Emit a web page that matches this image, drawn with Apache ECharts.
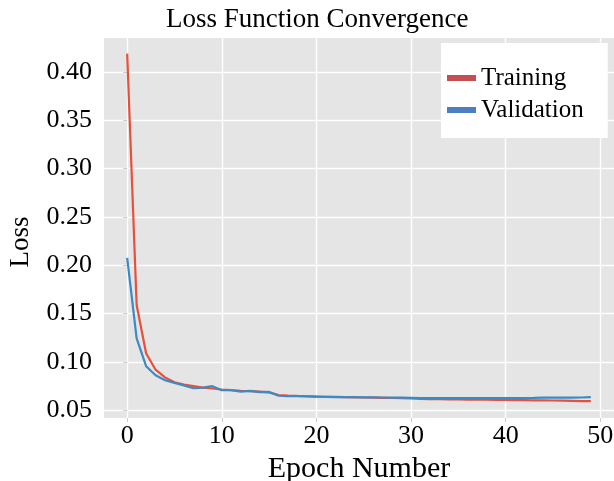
<!DOCTYPE html>
<html>
<head>
<meta charset="utf-8">
<script src="https://cdn.jsdelivr.net/npm/echarts@6/dist/echarts.min.js"></script>
<style>
  html, body { margin: 0; padding: 0; background: #ffffff; }
  #chart { width: 614px; height: 481px; }
</style>
</head>
<body>
<div id="chart"></div>
<script>
// Loss per epoch for the training and validation sets
const epochs = Array.from({ length: 50 }, (_, i) => i);

const trainingLoss = [
  0.419, 0.159, 0.109, 0.092, 0.084, 0.079, 0.0765, 0.075, 0.0735, 0.0725,
  0.0715, 0.0708, 0.0702, 0.0698, 0.0692, 0.0685, 0.0658, 0.0652, 0.0648, 0.0645,
  0.0642, 0.064, 0.0638, 0.0636, 0.0634, 0.0632, 0.0631, 0.0629, 0.0627, 0.0625,
  0.0622, 0.0617, 0.0615, 0.0614, 0.0613, 0.0612, 0.0611, 0.061, 0.0609, 0.0608,
  0.0606, 0.0605, 0.0604, 0.0603, 0.0602, 0.0601, 0.0599, 0.0597, 0.0595, 0.0594
];

const validationLoss = [
  0.2078, 0.1243, 0.0956, 0.0863, 0.081, 0.0783, 0.0756, 0.0728, 0.0735, 0.0749,
  0.0707, 0.0707, 0.0692, 0.07, 0.0688, 0.069, 0.065, 0.0647, 0.0645, 0.0643,
  0.0641, 0.0639, 0.0637, 0.0636, 0.0635, 0.0634, 0.0633, 0.0632, 0.0631, 0.063,
  0.0629, 0.0627, 0.0627, 0.0626, 0.0626, 0.0626, 0.0625, 0.0625, 0.0625, 0.0625,
  0.0625, 0.0626, 0.0627, 0.0628, 0.063, 0.063, 0.063, 0.0631, 0.0632, 0.0636
];

const xTicks = [0, 10, 20, 30, 40, 50];
const yTicks = [0.05, 0.10, 0.15, 0.20, 0.25, 0.30, 0.35, 0.40];

const FONT = '"Liberation Serif", "Times New Roman", serif';

const chart = echarts.init(document.getElementById('chart'), null, { renderer: 'canvas' });

const gridLine = { show: true, lineStyle: { color: '#ffffff', width: 1.4 } };

chart.setOption({
  backgroundColor: '#ffffff',
  animation: false,
  title: {
    text: 'Loss Function Convergence',
    left: 161,
    top: 1,
    textStyle: { fontFamily: FONT, fontSize: 27, fontWeight: 'normal', color: '#000' }
  },
  grid: {
    left: 104, top: 38, right: 0, bottom: 63,
    outerBoundsMode: 'none',
    containLabel: false,
    show: true, backgroundColor: '#e5e5e5', borderWidth: 0
  },
  legend: {
    orient: 'vertical',
    left: 441,
    top: 43,
    padding: [21, 24, 14, 6],
    backgroundColor: '#ffffff',
    borderWidth: 0,
    icon: 'rect',
    itemWidth: 29,
    itemHeight: 6,
    itemGap: 4,
    textStyle: { fontFamily: FONT, fontSize: 25, color: '#000', lineHeight: 28 },
    data: [
      { name: 'Training', itemStyle: { color: '#c44e52' } },
      { name: 'Validation', itemStyle: { color: '#4c7fc0' } }
    ]
  },
  xAxis: {
    type: 'value',
    min: -2.45,
    max: 51.45,
    name: 'Epoch Number',
    nameLocation: 'middle',
    nameGap: 25,
    nameTextStyle: { fontFamily: FONT, fontSize: 30, color: '#000' },
    axisLine: { show: false },
    axisTick: { show: true, customValues: xTicks, length: 4, lineStyle: { color: '#cccccc' } },
    axisLabel: {
      customValues: xTicks,
      margin: 5,
      fontFamily: FONT, fontSize: 26, color: '#000'
    },
    splitLine: gridLine
  },
  yAxis: {
    type: 'value',
    min: 0.042,
    max: 0.4352,
    name: 'Loss',
    nameLocation: 'middle',
    nameGap: 70,
    nameRotate: 90,
    nameTextStyle: { fontFamily: FONT, fontSize: 27, color: '#000', padding: [0, 28, 0, 0] },
    axisLine: { show: false },
    axisTick: { show: true, customValues: yTicks, length: 4, lineStyle: { color: '#cccccc' } },
    axisLabel: {
      customValues: yTicks,
      margin: 12,
      fontFamily: FONT, fontSize: 26, color: '#000',
      formatter: v => v.toFixed(2)
    },
    splitLine: gridLine
  },
  series: [
    {
      name: 'Training',
      type: 'line',
      showSymbol: false,
      data: epochs.map((e, i) => [e, trainingLoss[i]]),
      lineStyle: { color: '#e8503a', width: 2.2 },
      itemStyle: { color: '#e8503a' }
    },
    {
      name: 'Validation',
      type: 'line',
      showSymbol: false,
      data: epochs.map((e, i) => [e, validationLoss[i]]),
      lineStyle: { color: '#3b8ac6', width: 2.2 },
      itemStyle: { color: '#3b8ac6' }
    }
  ]
});
</script>
</body>
</html>
